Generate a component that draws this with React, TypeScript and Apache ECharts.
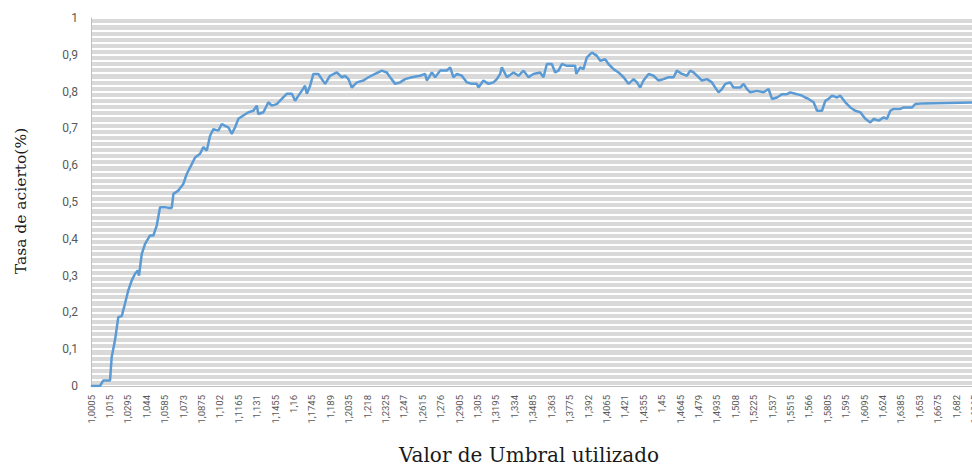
import React, { useEffect, useRef } from "react";
import * as echarts from "echarts";

const thresholds: number[] = [
  1.0005, 1.0076, 1.0102, 1.0155, 1.0168, 1.0194, 1.022, 1.0247, 1.0273, 1.0299,
  1.0326, 1.0352, 1.0373, 1.0383, 1.0405, 1.0431, 1.047, 1.0496, 1.0523, 1.0549,
  1.0588, 1.0614, 1.0641, 1.0654, 1.0693, 1.0732, 1.0759, 1.0799, 1.0825, 1.0864,
  1.089, 1.0917, 1.0943, 1.0969, 1.1008, 1.1035, 1.1061, 1.1087, 1.1114, 1.114,
  1.1166, 1.1205, 1.1245, 1.1284, 1.1311, 1.1323, 1.1363, 1.1402, 1.1429, 1.1468,
  1.1508, 1.1547, 1.1587, 1.1613, 1.1639, 1.1665, 1.1691, 1.1705, 1.1731, 1.1757,
  1.1796, 1.1823, 1.1849, 1.1888, 1.1941, 1.1981, 1.2007, 1.2033, 1.2059, 1.2099,
  1.2151, 1.219, 1.2243, 1.2296, 1.2335, 1.2361, 1.2401, 1.244, 1.2479, 1.2532,
  1.2598, 1.2637, 1.265, 1.269, 1.2716, 1.2755, 1.2808, 1.2834, 1.286, 1.2887,
  1.2926, 1.2966, 1.3005, 1.3044, 1.3057, 1.3096, 1.3136, 1.3175, 1.3202, 1.3228,
  1.3241, 1.3281, 1.3333, 1.3372, 1.3412, 1.3451, 1.349, 1.3543, 1.3569, 1.3596,
  1.3635, 1.3661, 1.3687, 1.3714, 1.3754, 1.3819, 1.3827, 1.3858, 1.3884, 1.3911,
  1.3951, 1.399, 1.4016, 1.4055, 1.4081, 1.4121, 1.416, 1.42, 1.4239, 1.4279,
  1.4305, 1.4331, 1.4357, 1.4397, 1.4436, 1.4476, 1.4515, 1.4554, 1.4594, 1.462,
  1.466, 1.4699, 1.4725, 1.4751, 1.4791, 1.4817, 1.4857, 1.4896, 1.4922, 1.4948,
  1.4975, 1.5001, 1.504, 1.5066, 1.5119, 1.5145, 1.5172, 1.5198, 1.5251, 1.5303,
  1.5342, 1.5369, 1.5408, 1.5448, 1.5487, 1.5513, 1.5566, 1.5605, 1.5631, 1.5657,
  1.5697, 1.5724, 1.5763, 1.5789, 1.5815, 1.5842, 1.5881, 1.5907, 1.5947, 1.5986,
  1.6025, 1.6065, 1.6104, 1.6144, 1.617, 1.6209, 1.6248, 1.6275, 1.6301, 1.6327,
  1.638, 1.6406, 1.6472, 1.6498, 1.6564, 1.6995,
];

const hitRates: number[] = [
  0, 0, 0.015, 0.015, 0.079, 0.124, 0.187, 0.19, 0.224, 0.26,
  0.287, 0.305, 0.314, 0.3, 0.359, 0.386, 0.409, 0.409, 0.436, 0.486,
  0.486, 0.484, 0.484, 0.522, 0.531, 0.549, 0.576, 0.603, 0.621, 0.631,
  0.649, 0.64, 0.68, 0.698, 0.694, 0.712, 0.707, 0.703, 0.685, 0.703,
  0.726, 0.735, 0.744, 0.748, 0.762, 0.739, 0.744, 0.771, 0.762, 0.766,
  0.78, 0.794, 0.794, 0.775, 0.789, 0.802, 0.816, 0.794, 0.816, 0.848,
  0.848, 0.834, 0.821, 0.843, 0.852, 0.839, 0.843, 0.834, 0.811, 0.825,
  0.83, 0.839, 0.848, 0.857, 0.852, 0.839, 0.821, 0.825, 0.834, 0.839,
  0.843, 0.848, 0.83, 0.852, 0.839, 0.857, 0.857, 0.866, 0.839, 0.848,
  0.843, 0.825, 0.821, 0.821, 0.811, 0.83, 0.821, 0.825, 0.834, 0.848,
  0.866, 0.839, 0.852, 0.843, 0.857, 0.839, 0.848, 0.852, 0.839, 0.875,
  0.875, 0.852, 0.857, 0.875, 0.87, 0.87, 0.848, 0.866, 0.861, 0.893,
  0.906, 0.897, 0.884, 0.888, 0.875, 0.861, 0.852, 0.839, 0.821, 0.834,
  0.825, 0.811, 0.83, 0.848, 0.843, 0.83, 0.834, 0.839, 0.839, 0.857,
  0.848, 0.843, 0.857, 0.852, 0.839, 0.83, 0.834, 0.825, 0.811, 0.798,
  0.807, 0.821, 0.825, 0.811, 0.811, 0.821, 0.807, 0.798, 0.802, 0.798,
  0.807, 0.78, 0.784, 0.793, 0.793, 0.798, 0.793, 0.789, 0.784, 0.78,
  0.771, 0.748, 0.748, 0.775, 0.78, 0.789, 0.784, 0.789, 0.771, 0.757,
  0.748, 0.744, 0.726, 0.716, 0.726, 0.721, 0.73, 0.726, 0.748, 0.753,
  0.753, 0.757, 0.757, 0.766, 0.768, 0.771,
];

const xTickStart = 1.0005;
const xTickStep = 0.0145;
const xAxisEnd = 1.711;
const yTicks = { min: 0, max: 1, step: 0.1 };

const yTitle = "Tasa de acierto(%)";
const xTitle = "Valor de Umbral utilizado";

const fmt = (v: number, d: number) => String(+v.toFixed(d)).replace(".", ",");

export default function App() {
  const ref = useRef<HTMLDivElement>(null);
  useEffect(() => {
    if (!ref.current) return;
    const chart = echarts.init(ref.current, null, { renderer: "svg" });
    const data = thresholds.map((x, i) => [x, hitRates[i]]);
    chart.setOption({
      animation: false,
      backgroundColor: "#ffffff",
      grid: {
        left: 91,
        right: -21,
        top: 18,
        bottom: 82,
        show: true,
        backgroundColor: "#d9d9d9",
        borderWidth: 0,
        containLabel: false,
        outerBoundsMode: "none",
      },
      xAxis: {
        type: "value",
        min: xTickStart,
        max: xAxisEnd,
        interval: xTickStep,
        axisLine: { show: true, onZero: false, lineStyle: { color: "#bfbfbf", width: 1 } },
        axisTick: { show: false },
        splitLine: { show: false },
        axisLabel: {
          rotate: 90,
          margin: 9,
          fontSize: 9.5,
          fontFamily: "Roboto",
          color: "#595959",
          showMinLabel: true,
          showMaxLabel: true,
          formatter: (v: number) => fmt(v, 4),
        },
      },
      yAxis: {
        type: "value",
        min: yTicks.min,
        max: yTicks.max,
        interval: yTicks.step,
        axisLine: { show: true, lineStyle: { color: "#bfbfbf", width: 1 } },
        axisTick: { show: false },
        splitLine: { show: true, lineStyle: { color: "#ffffff", width: 2 } },
        minorTick: { show: false, splitNumber: 6 },
        minorSplitLine: { show: true, lineStyle: { color: "#ffffff", width: 2 } },
        axisLabel: {
          margin: 13,
          fontSize: 12,
          fontFamily: "Roboto",
          color: "#595959",
          formatter: (v: number) => fmt(v, 2),
        },
      },
      graphic: [
        {
          type: "text",
          x: 21,
          y: 201,
          rotation: Math.PI / 2,
          style: {
            text: yTitle,
            fontFamily: "DejaVu Serif",
            fontSize: 15.5,
            fill: "#1a1a1a",
            textAlign: "center",
            textVerticalAlign: "middle",
          },
        },
        {
          type: "text",
          x: 529,
          y: 455,
          style: {
            text: xTitle,
            fontFamily: "DejaVu Serif",
            fontSize: 20,
            fill: "#1a1a1a",
            textAlign: "center",
            textVerticalAlign: "middle",
          },
        },
      ],
      series: [
        {
          type: "line",
          data,
          showSymbol: false,
          symbol: "none",
          lineStyle: { color: "#5b9bd5", width: 2.5 },
          clip: true,
        },
      ],
    });
    return () => chart.dispose();
  }, []);
  return (
    <div
      ref={ref}
      style={{ position: "absolute", left: 0, top: 0, width: 972, height: 468, overflow: "hidden" }}
    />
  );
}
